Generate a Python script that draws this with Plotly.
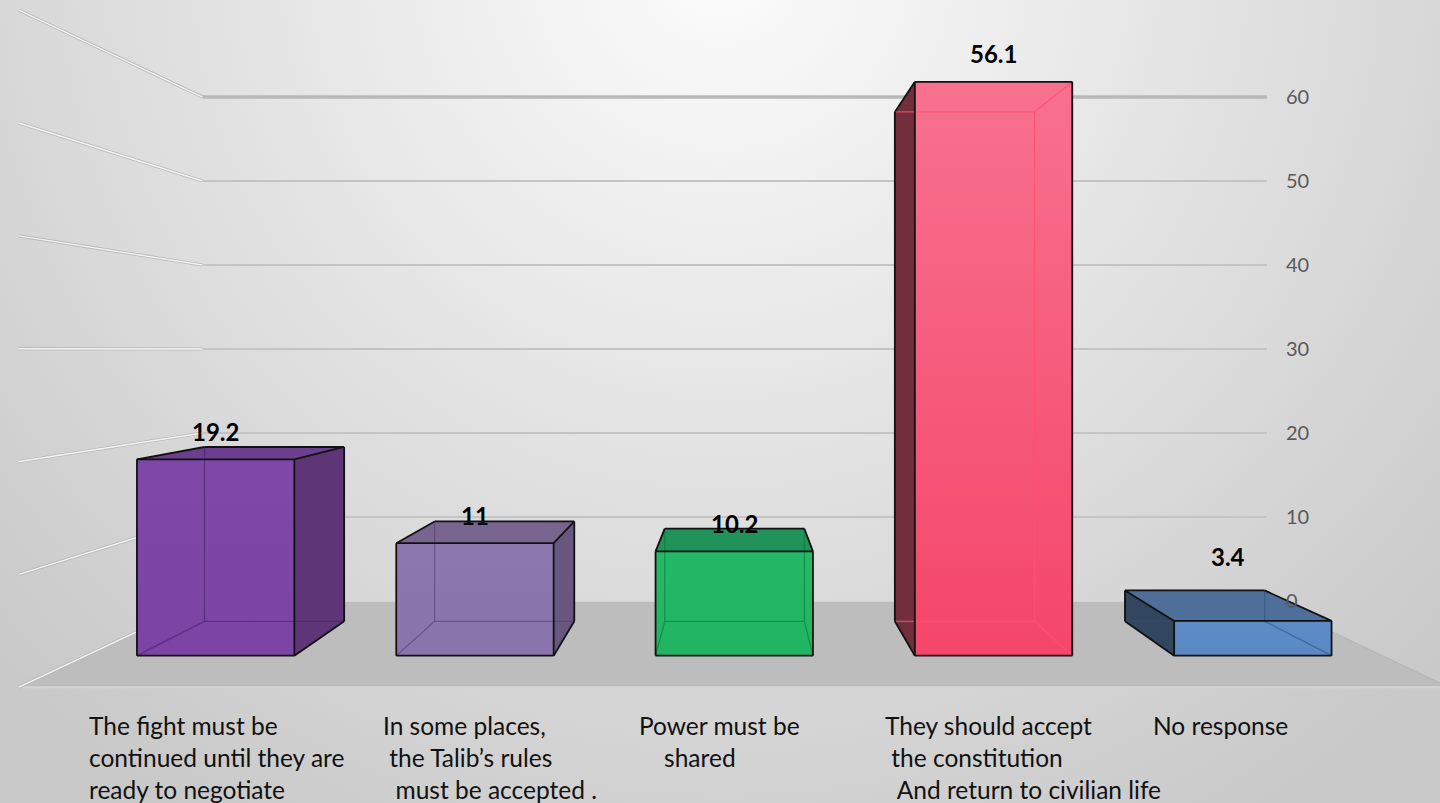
import base64
import plotly.graph_objects as go

# ---------------- data ----------------
category_lines = [
    ["The fight must be", "continued until they are", "ready to negotiate"],
    ["In some places,", "\u00a0the Talib’s rules", "\u00a0\u00a0must be accepted ."],
    ["Power must be", "\u00a0\u00a0\u00a0\u00a0shared"],
    ["They should accept", "\u00a0the constitution", "\u00a0\u00a0And return to civilian life"],
    ["No response"],
]
values = [19.2, 11, 10.2, 56.1, 3.4]
value_labels = ["19.2", "11", "10.2", "56.1", "3.4"]
tick_values = [0, 10, 20, 30, 40, 50, 60]
tick_labels = ["0", "10", "20", "30", "40", "50", "60"]

# ---------------- styles ----------------
front_top = ["#7E48A8", "#8C77AF", "#24B967", "#F8718F", "#5C8CC6"]
front_bot = ["#7C45A5", "#8A74AC", "#21B463", "#F4466A", "#5A89C3"]
side_col = ["#5E3678", "#685880", "#1E8F50", "#722E3B", "#33465F"]
top_col = ["#6B3F8E", "#77648F", "#20925A", "#E45A78", "#4D6F9A"]
inner_col = ["rgba(70,30,100,0.55)", "rgba(80,60,110,0.55)", "rgba(10,120,55,0.6)",
             "rgba(255,80,110,0.8)", "rgba(40,80,130,0.55)"]
label_nudge = [(0, 0), (0, 0), (0, 0), (0, 0), (-25, -36)]
cat_dx = [-50, -15, -19, -32, -23]   # left edge of category text relative to bar front-left

# perspective model (front plane in pixels)
CX, CY = 737.0, 350.0
X0, W, BAR_FRAC = 86.0, 259.3, 0.607
BASE, K = 655.7, 10.23
F_FRONT, F_BACK, F_WALL, F_FLOOR = 1.0, 0.8875, 0.821, 1.103
Y0W = CY + (BASE - CY) * F_WALL
UNIT_W = K * F_WALL
FIG_W, FIG_H = 1440, 803


def proj(xp, v, f):
    Y = BASE - K * v
    sx = CX + (xp - CX) * f
    sy = CY + (Y - CY) * f
    return sx, (Y0W - sy) / UNIT_W


def ypix(py):
    return (Y0W - py) / UNIT_W


fig = go.Figure()


def poly(pts, fill, line=None, width=0, grad=None):
    xs = [p[0] for p in pts] + [pts[0][0]]
    ys = [p[1] for p in pts] + [pts[0][1]]
    kw = dict(x=xs, y=ys, mode="lines", fill="toself", hoverinfo="skip", showlegend=False,
              line=dict(color=line or "rgba(0,0,0,0)", width=width))
    if grad is not None:
        kw["fillgradient"] = dict(type="vertical", colorscale=grad)
    else:
        kw["fillcolor"] = fill
    fig.add_trace(go.Scatter(**kw))


def seg(pts, color, width):
    fig.add_trace(go.Scatter(x=[p[0] for p in pts], y=[p[1] for p in pts], mode="lines",
                             line=dict(color=color, width=width), hoverinfo="skip",
                             showlegend=False))


XR = X0 + W * len(values)

# floor
poly([proj(X0, 0, F_WALL), proj(XR, 0, F_WALL), proj(XR, 0, F_FLOOR), proj(X0, 0, F_FLOOR)],
     "#BDBDBD")
seg([proj(X0, 0, F_FLOOR), proj(XR, 0, F_FLOOR)], "#D4D4D4", 2)
seg([proj(XR, 0, F_WALL), proj(XR, 0, F_FLOOR)], "#B4B4B4", 1)

# side wall gridlines
for t in tick_values:
    seg([proj(X0, t, F_WALL), proj(X0, t, F_FLOOR)], "#B8B8B8", 3.2)
    seg([proj(X0, t, F_WALL), proj(X0, t, F_FLOOR)], "#F4F4F4", 1.4)

# back wall gridlines
for t in tick_values:
    if t == 0:
        seg([proj(X0, t, F_WALL), proj(XR, t, F_WALL)], "#DADADA", 1.5)
    elif t == tick_values[-1]:
        seg([proj(X0, t, F_WALL), proj(XR, t, F_WALL)], "#B8B8B8", 3.5)
    else:
        seg([proj(X0, t, F_WALL), proj(XR, t, F_WALL)], "#C4C4C4", 2)

# bars
for i, v in enumerate(values):
    xl = X0 + i * W + W * (1 - BAR_FRAC) / 2
    xr = xl + W * BAR_FRAC
    FBL, FBR, FTL, FTR = proj(xl, 0, F_FRONT), proj(xr, 0, F_FRONT), proj(xl, v, F_FRONT), proj(xr, v, F_FRONT)
    BBL, BBR, BTL, BTR = proj(xl, 0, F_BACK), proj(xr, 0, F_BACK), proj(xl, v, F_BACK), proj(xr, v, F_BACK)
    right_vis = xr < CX
    left_vis = xl > CX
    top_vis = BTL[1] > FTL[1]  # back top appears higher -> top seen from above

    if top_vis:
        poly([FTL, FTR, BTR, BTL], top_col[i])
    if right_vis:
        poly([FBR, FTR, BTR, BBR], side_col[i])
    if left_vis:
        poly([FBL, FTL, BTL, BBL], side_col[i])
    poly([FBL, FBR, FTR, FTL], None, grad=[[0, front_bot[i]], [1, front_top[i]]])

    visible = {("FBL", "FBR"), ("FBR", "FTR"), ("FTR", "FTL"), ("FTL", "FBL")}
    if right_vis:
        visible |= {("FTR", "BTR"), ("BTR", "BBR"), ("BBR", "FBR")}
    if left_vis:
        visible |= {("FTL", "BTL"), ("BTL", "BBL"), ("BBL", "FBL")}
    if top_vis:
        visible |= {("FTL", "BTL"), ("FTR", "BTR"), ("BTL", "BTR")}
    P = dict(FBL=FBL, FBR=FBR, FTL=FTL, FTR=FTR, BBL=BBL, BBR=BBR, BTL=BTL, BTR=BTR)
    edges = [("FBL", "FBR"), ("FBR", "FTR"), ("FTR", "FTL"), ("FTL", "FBL"),
             ("BBL", "BBR"), ("BBR", "BTR"), ("BTR", "BTL"), ("BTL", "BBL"),
             ("FBL", "BBL"), ("FBR", "BBR"), ("FTL", "BTL"), ("FTR", "BTR")]
    for a, b in edges:
        if (a, b) not in visible and (b, a) not in visible:
            seg([P[a], P[b]], inner_col[i], 1.3)
    for a, b in edges:
        if (a, b) in visible or (b, a) in visible:
            seg([P[a], P[b]], "#111111", 1.8)

    # value label
    cx_front = (FBL[0] + FBR[0]) / 2
    fig.add_annotation(x=cx_front + label_nudge[i][0], y=FTL[1], yshift=28 - label_nudge[i][1],
                       text="<b>%s</b>" % value_labels[i], showarrow=False, xanchor="center",
                       yanchor="middle", font=dict(family="Lato", size=24, color="#000000"))

    # category label
    txt = "<br>".join(category_lines[i])
    fig.add_annotation(x=FBL[0] + cat_dx[i], y=ypix(709), text=txt, showarrow=False,
                       xanchor="left", yanchor="top", align="left",
                       font=dict(family="Lato", size=24.5, color="#111111"))

# background gradient (SVG data URI)
svg = ("<svg xmlns='http://www.w3.org/2000/svg' width='1440' height='803' viewBox='0 0 1440 803' "
       "preserveAspectRatio='none'><defs><radialGradient id='g' gradientUnits='userSpaceOnUse' "
       "cx='720' cy='-40' r='1000'><stop offset='0' stop-color='#FCFCFC'/>"
       "<stop offset='1' stop-color='#C9C9C9'/></radialGradient></defs>"
       "<rect width='1440' height='803' fill='url(#g)'/></svg>")
src = "data:image/svg+xml;base64," + base64.b64encode(svg.encode()).decode()

fig.update_layout(
    width=FIG_W, height=FIG_H,
    margin=dict(l=0, r=0, t=0, b=0),
    paper_bgcolor="#DCDCDC",
    plot_bgcolor="rgba(0,0,0,0)",
    showlegend=False,
    images=[dict(source=src, xref="paper", yref="paper", x=0, y=1, sizex=1, sizey=1,
                 xanchor="left", yanchor="top", sizing="stretch", layer="below")],
    xaxis=dict(range=[0, FIG_W], visible=False, fixedrange=True),
    yaxis=dict(range=[ypix(FIG_H), ypix(0)], tickvals=tick_values, ticktext=tick_labels,
               side="right", anchor="free", position=1285 / FIG_W, showgrid=False,
               zeroline=False, showline=False, ticks="", fixedrange=True,
               tickfont=dict(family="Lato", size=20, color="#595959")),
)

fig.write_html("out.html", config={"displayModeBar": False},
               post_script="document.body.style.margin='0';")
